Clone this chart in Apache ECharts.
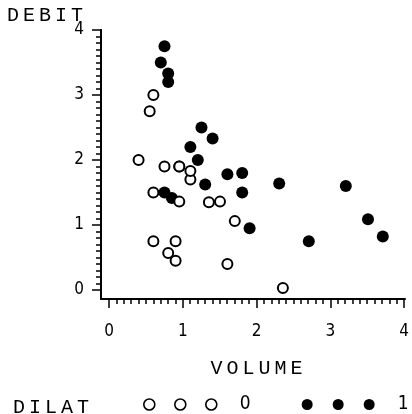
<!DOCTYPE html>
<html>
<head>
<meta charset="utf-8">
<script src="https://cdn.jsdelivr.net/npm/echarts@6/dist/echarts.min.js"></script>
<style>
  html, body { margin: 0; padding: 0; background: #fff; }
  #chart { width: 412px; height: 414px; }
</style>
</head>
<body>
<div id="chart"></div>
<script>
// DILAT = 0 (open circles)
const volume0 = [0.60, 1.10, 0.90, 0.90, 0.80, 0.55, 0.60, 1.70, 0.40, 0.95, 1.35, 1.50, 0.60, 0.95, 1.60, 2.35, 1.10, 0.95, 0.75]
const debit0  = [0.75, 1.70, 0.75, 0.45, 0.57, 2.75, 3.00, 1.06, 2.00, 1.36, 1.35, 1.36, 1.50, 1.90, 0.40, 0.03, 1.83, 1.90, 1.90]
// DILAT = 1 (filled circles)
const volume1 = [3.70, 3.50, 1.25, 0.75, 0.80, 0.70, 1.40, 0.75, 2.30, 3.20, 0.85, 1.80, 1.60, 1.80, 1.90, 2.70, 1.10, 1.20, 0.80, 1.30]
const debit1  = [0.825, 1.09, 2.50, 1.50, 3.20, 3.50, 2.33, 3.75, 1.64, 1.60, 1.415, 1.80, 1.78, 1.50, 0.95, 0.75, 2.20, 2.00, 3.33, 1.625]

const xTicks = [0, 1, 2, 3, 4]
const yTicks = [0, 1, 2, 3, 4]
const groups = ['0', '1']

const monoFont = '"Liberation Mono", "DejaVu Sans Mono", monospace'
const narrowFont = '"Liberation Sans Narrow", "DejaVu Sans Condensed", "Liberation Sans", sans-serif'

// spread letters like the original's wide monospace labels
function spaced(word) {
  return word.split('').map(c => '{s|' + c + '}').join('')
}
const spacedRich = {
  s: { fontFamily: monoFont, fontSize: 20, fontWeight: 'normal', color: '#000', padding: [0, 2, 0, 2] }
}

const circles3 = 'path://M0,5.5a5.5,5.5 0 1,0 11,0a5.5,5.5 0 1,0 -11,0Z' +
  'M31,5.5a5.5,5.5 0 1,0 11,0a5.5,5.5 0 1,0 -11,0Z' +
  'M62,5.5a5.5,5.5 0 1,0 11,0a5.5,5.5 0 1,0 -11,0Z'

const chart = echarts.init(document.getElementById('chart'))

const X_MIN = -0.108
const Y_MIN = -0.138
const black = { color: '#000', width: 2 }

const option = {
  backgroundColor: '#fff',
  animation: false,
  title: {
    text: spaced('DILAT'),
    left: 11,
    top: 398,
    padding: 0,
    textStyle: { fontWeight: 'normal', rich: spacedRich }
  },
  legend: {
    left: 143,
    top: 395,
    width: 269,
    padding: 0,
    itemWidth: 73,
    itemHeight: 11,
    itemGap: 51,
    icon: circles3,
    textStyle: { fontFamily: narrowFont, fontSize: 19, color: '#000', padding: [0, 0, 0, 18] },
    data: [
      { name: groups[0], itemStyle: { color: '#fff', borderColor: '#000', borderWidth: 1.6 } },
      { name: groups[1], itemStyle: { color: '#000', borderWidth: 0 } }
    ]
  },
  // grid 0: data, full-length axis lines and names; grid 1: the 0..4 box carrying ticks and labels
  grid: [
    { left: 101, right: 7, top: 30, bottom: 115 },
    { left: 109, right: 7, top: 30, bottom: 124 }
  ],
  xAxis: [
    {
      type: 'value',
      gridIndex: 0,
      min: X_MIN,
      max: xTicks[xTicks.length - 1],
      position: 'bottom',
      name: spaced('VOLUME'),
      nameLocation: 'middle',
      nameGap: 60,
      nameTextStyle: { rich: spacedRich, padding: [0, 0, 0, 7] },
      splitLine: { show: false },
      axisLine: { show: true, onZero: false, lineStyle: black },
      axisTick: { show: false },
      axisLabel: { show: false }
    },
    {
      type: 'value',
      gridIndex: 1,
      min: xTicks[0],
      max: xTicks[xTicks.length - 1],
      interval: 1,
      position: 'bottom',
      offset: 9,
      splitLine: { show: false },
      axisLine: { show: true, onZero: false, lineStyle: black },
      axisTick: { show: true, length: 9, lineStyle: { color: '#000', width: 1.5 } },
      axisLabel: { margin: 24, fontFamily: narrowFont, fontSize: 17, color: '#000' },
      minorTick: { show: true, splitNumber: 10, length: 5, lineStyle: { color: '#000', width: 1.5 } },
      minorSplitLine: { show: false }
    }
  ],
  yAxis: [
    {
      type: 'value',
      gridIndex: 0,
      min: Y_MIN,
      max: yTicks[yTicks.length - 1],
      position: 'left',
      name: spaced('DEBIT'),
      nameLocation: 'end',
      nameGap: 4,
      nameTextStyle: { rich: spacedRich, align: 'right', verticalAlign: 'bottom', padding: [0, 16, 0, 0] },
      splitLine: { show: false },
      axisLine: { show: true, onZero: false, lineStyle: black },
      axisTick: { show: false },
      axisLabel: { show: false }
    },
    {
      type: 'value',
      gridIndex: 1,
      min: yTicks[0],
      max: yTicks[yTicks.length - 1],
      interval: 1,
      position: 'left',
      offset: 8,
      splitLine: { show: false },
      axisLine: { show: true, onZero: false, lineStyle: black },
      axisTick: { show: true, length: 9, lineStyle: { color: '#000', width: 1.5 } },
      axisLabel: { margin: 17, fontFamily: narrowFont, fontSize: 17, color: '#000' },
      minorTick: { show: true, splitNumber: 10, length: 5, lineStyle: { color: '#000', width: 1.5 } },
      minorSplitLine: { show: false }
    }
  ],
  series: [
    {
      name: groups[0],
      type: 'scatter',
      xAxisIndex: 0,
      yAxisIndex: 0,
      z: 3,
      symbol: 'circle',
      symbolSize: 10,
      itemStyle: { color: '#fff', borderColor: '#000', borderWidth: 2, opacity: 1 },
      data: volume0.map((v, i) => [v, debit0[i]])
    },
    {
      name: groups[1],
      type: 'scatter',
      xAxisIndex: 0,
      yAxisIndex: 0,
      z: 2,
      symbol: 'circle',
      symbolSize: 12,
      itemStyle: { color: '#000', opacity: 1 },
      data: volume1.map((v, i) => [v, debit1[i]])
    }
  ]
}

chart.setOption(option)
</script>
</body>
</html>
